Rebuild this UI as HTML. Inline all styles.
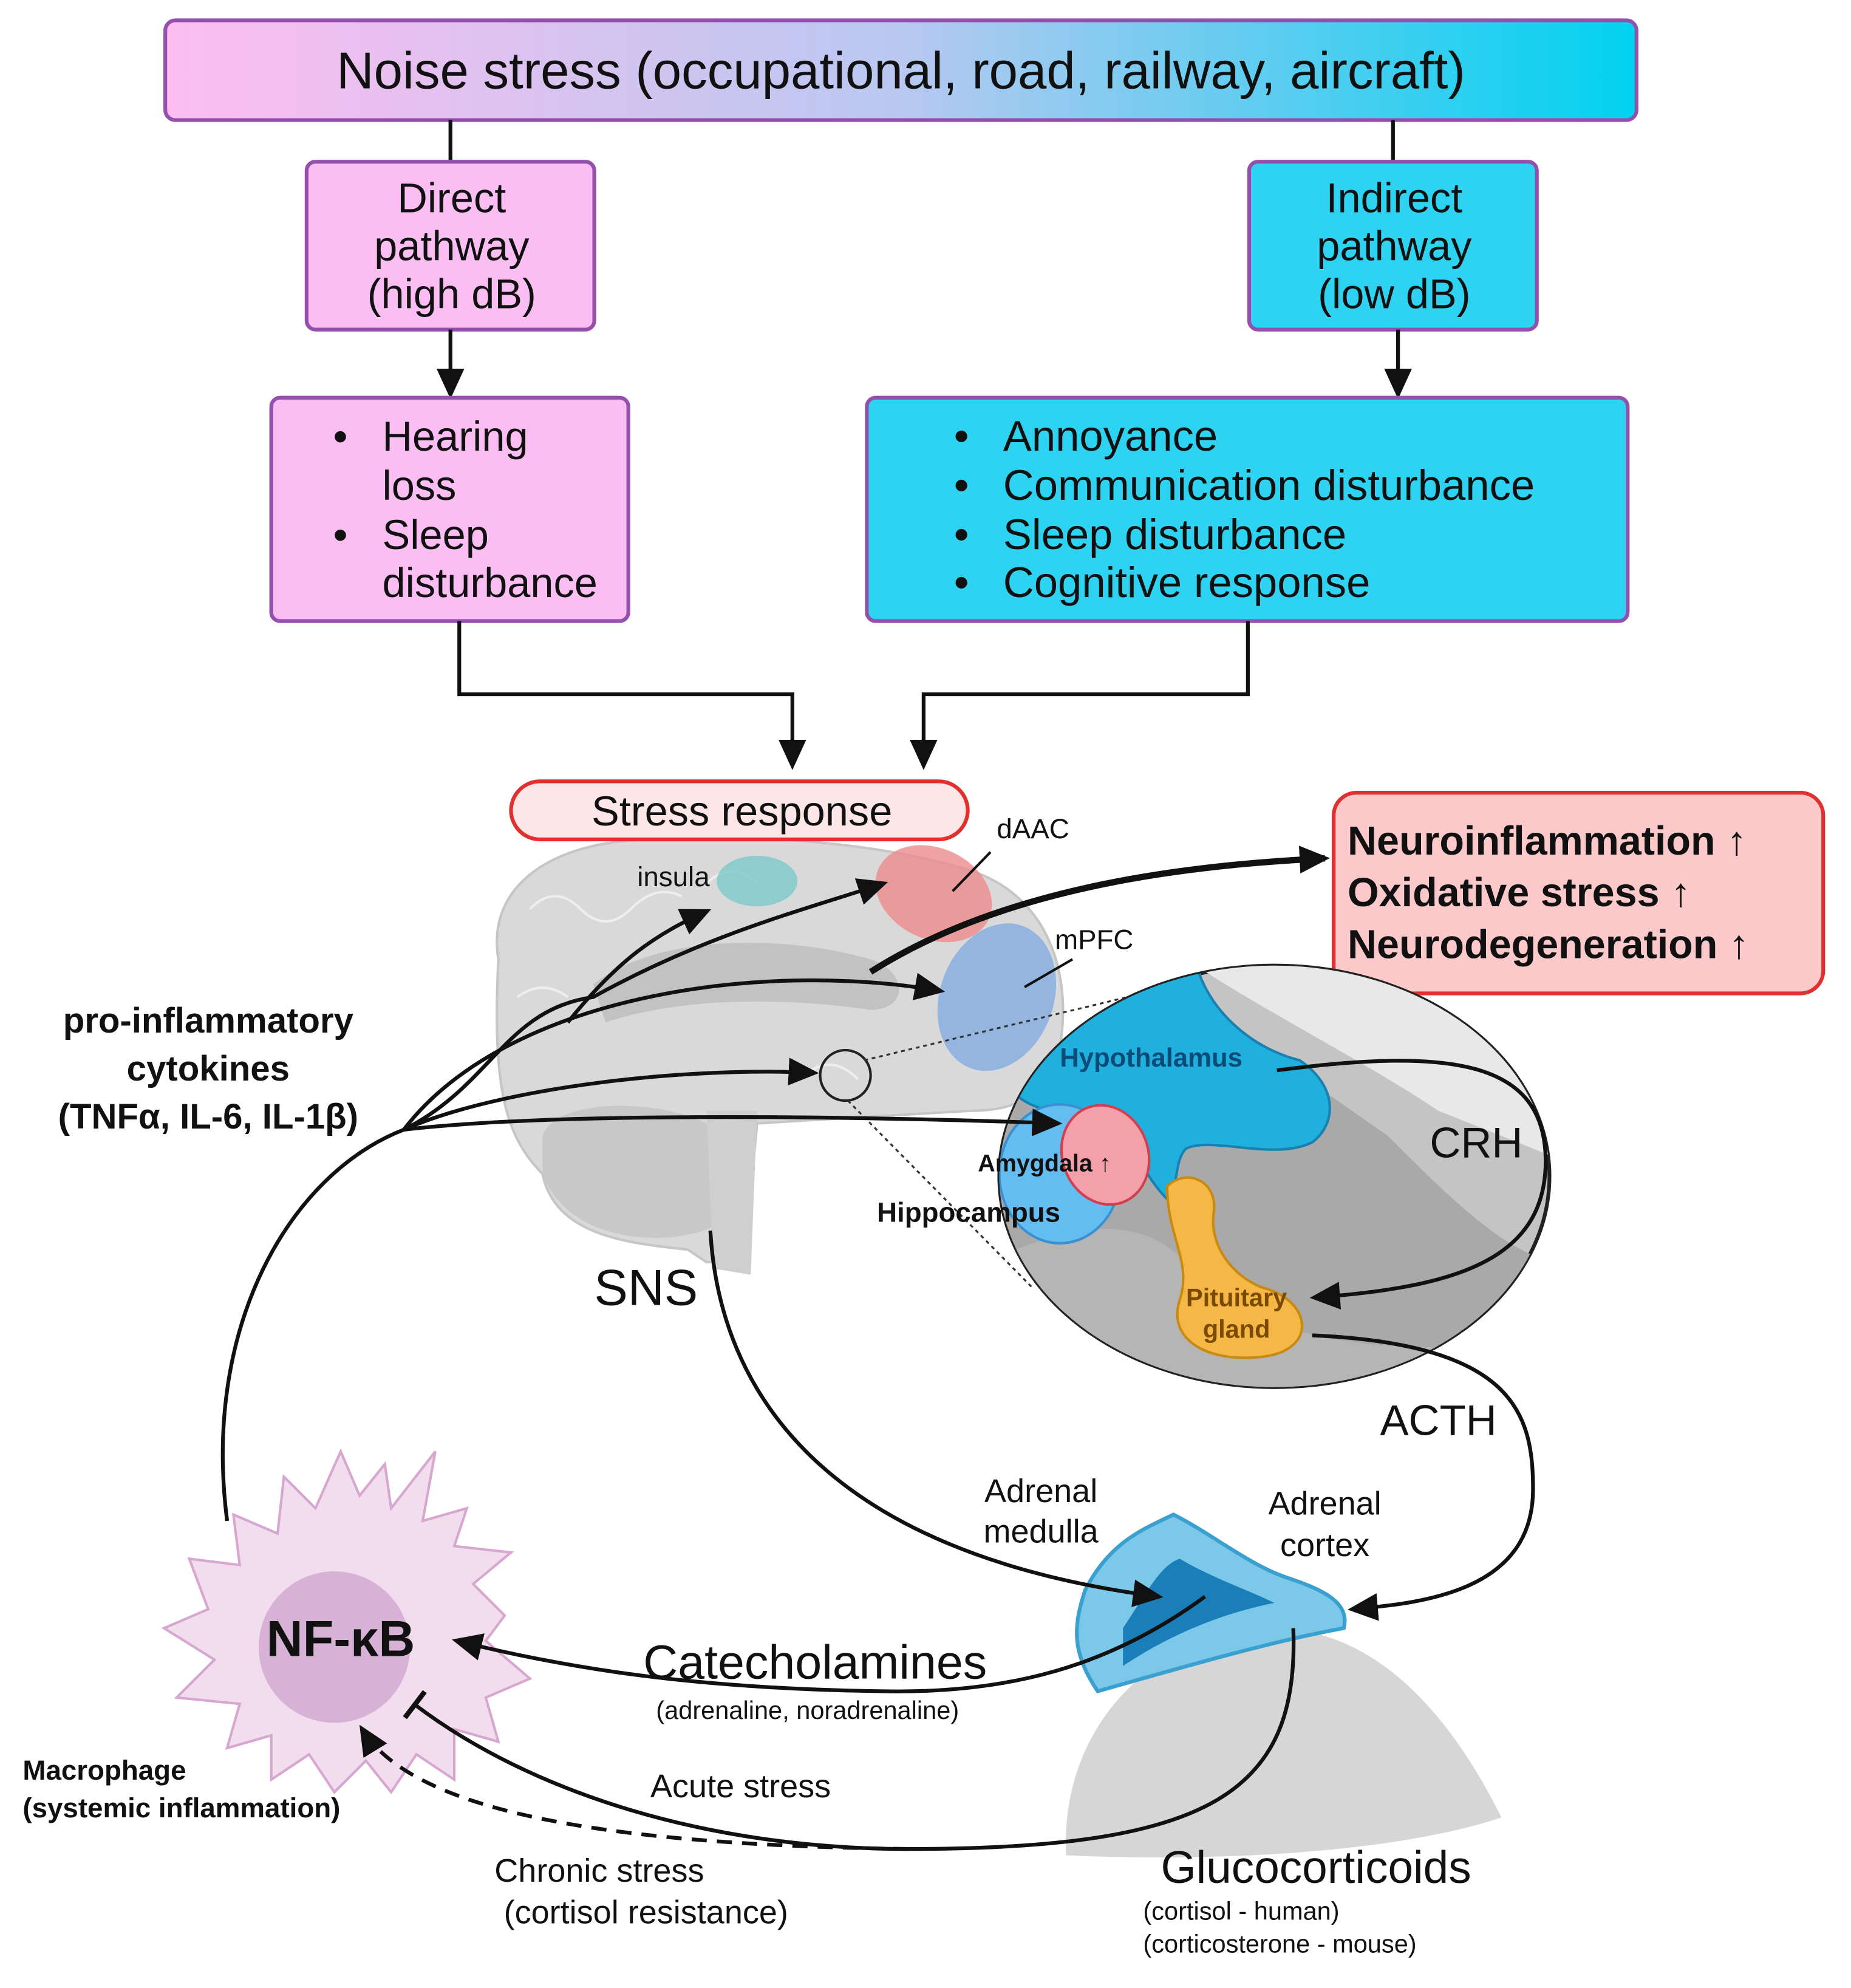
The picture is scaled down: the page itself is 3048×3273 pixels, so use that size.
<!DOCTYPE html>
<html><head><meta charset="utf-8"><style>
html,body{margin:0;padding:0;background:#fff}
svg{display:block}
text{font-family:"Liberation Sans",sans-serif;fill:#111}
</style></head><body>
<svg width="3048" height="3273" viewBox="0 0 1467 1575" xmlns="http://www.w3.org/2000/svg">
<defs>
<linearGradient id="g1" x1="0" x2="1" y1="0" y2="0"><stop offset="0" stop-color="#fdbdf0"/><stop offset="0.5" stop-color="#b9c8f0"/><stop offset="1" stop-color="#00d2f0"/></linearGradient>
<marker id="arb" markerWidth="26" markerHeight="22" refX="20" refY="11" orient="auto" markerUnits="userSpaceOnUse"><path d="M0,0 L24,11 L0,22 z" fill="#111"/></marker>
<marker id="bar" markerWidth="6" markerHeight="26" refX="3" refY="13" orient="auto" markerUnits="userSpaceOnUse"><rect x="0" y="0" width="4" height="26" fill="#111"/></marker>
<clipPath id="cc"><ellipse cx="1010" cy="932" rx="218" ry="167"/></clipPath>
</defs>

<rect x="131" y="16" width="1166" height="79" rx="8" fill="url(#g1)" stroke="#9550ae" stroke-width="3"/>
<text x="714" y="70" font-size="41" text-anchor="middle">Noise stress (occupational, road, railway, aircraft)</text>
<line x1="357" y1="95" x2="357" y2="128" stroke="#111" stroke-width="3"/>
<line x1="1104" y1="95" x2="1104" y2="128" stroke="#111" stroke-width="3"/>

<rect x="243" y="128" width="228" height="133" rx="7" fill="#fbbef3" stroke="#9550ae" stroke-width="3"/>
<text font-size="33" text-anchor="middle"><tspan x="358" y="168">Direct</tspan><tspan x="358" y="206">pathway</tspan><tspan x="358" y="244">(high dB)</tspan></text>
<rect x="990" y="128" width="228" height="133" rx="7" fill="#2fd3f2" stroke="#9550ae" stroke-width="3"/>
<text font-size="33" text-anchor="middle"><tspan x="1105" y="168">Indirect</tspan><tspan x="1105" y="206">pathway</tspan><tspan x="1105" y="244">(low dB)</tspan></text>

<line x1="357" y1="261" x2="357" y2="312" stroke="#111" stroke-width="3" marker-end="url(#arb)"/>
<line x1="1108" y1="261" x2="1108" y2="312" stroke="#111" stroke-width="3" marker-end="url(#arb)"/>

<rect x="215" y="315" width="283" height="177" rx="7" fill="#fbbef3" stroke="#9550ae" stroke-width="3"/>
<g font-size="33"><text x="264" y="357">•</text><text x="303" y="357">Hearing</text><text x="303" y="396">loss</text><text x="264" y="435">•</text><text x="303" y="435">Sleep</text><text x="303" y="473">disturbance</text></g>
<rect x="687" y="315" width="603" height="177" rx="7" fill="#2fd3f2" stroke="#9550ae" stroke-width="3"/>
<g font-size="34"><text x="756" y="357">•</text><text x="795" y="357">Annoyance</text><text x="756" y="396">•</text><text x="795" y="396">Communication disturbance</text><text x="756" y="435">•</text><text x="795" y="435">Sleep disturbance</text><text x="756" y="473">•</text><text x="795" y="473">Cognitive response</text></g>

<polyline points="364,492 364,550 628,550 628,606" fill="none" stroke="#111" stroke-width="3" marker-end="url(#arb)"/>
<polyline points="989,492 989,550 732,550 732,606" fill="none" stroke="#111" stroke-width="3" marker-end="url(#arb)"/>

<!-- brain -->
<path d="M395,760 C385,700 440,665 520,665 C600,660 700,668 770,690 C830,710 850,770 840,830 C835,870 800,880 770,880 L600,890 L590,1000 L560,1000 L545,990 C500,985 440,980 430,930 C400,900 390,860 395,760 Z" fill="#d9d9d9" stroke="#c6c6c6" stroke-width="2"/>
<path d="M430,900 C440,870 520,870 560,890 L570,970 C530,990 450,985 430,930 Z" fill="#c8c8c8"/>
<path d="M470,780 C520,740 620,740 690,760 C720,770 720,800 690,800 C620,790 540,790 480,810 Z" fill="#c2c2c2"/>
<path d="M560,880 L600,880 L595,1010 L565,1005 Z" fill="#cfcfcf"/>
<g fill="none" stroke="#eeeeee" stroke-width="2"><path d="M420,720 q20,-20 40,0 t40,0 t40,-10"/><path d="M410,790 q20,-15 40,0"/><path d="M560,700 q20,-20 40,0"/><path d="M640,850 q20,-15 40,5"/></g>
<ellipse cx="600" cy="698" rx="32" ry="20" fill="#7cc8c8" opacity="0.8"/>
<ellipse cx="740" cy="708" rx="48" ry="36" fill="#ec8a8a" opacity="0.8" transform="rotate(25 740 708)"/>
<ellipse cx="790" cy="790" rx="45" ry="60" fill="#86aee0" opacity="0.85" transform="rotate(20 790 790)"/>
<line x1="755" y1="706" x2="785" y2="675" stroke="#111" stroke-width="2"/>
<line x1="812" y1="782" x2="850" y2="760" stroke="#111" stroke-width="2"/>
<text x="790" y="664" font-size="22">dAAC</text>
<text x="836" y="752" font-size="22">mPFC</text>
<text x="505" y="702" font-size="22">insula</text>
<circle cx="670" cy="852" r="20" fill="none" stroke="#222" stroke-width="2"/>
<line x1="685" y1="840" x2="985" y2="768" stroke="#333" stroke-width="1.5" stroke-dasharray="3,3"/>
<line x1="672" y1="872" x2="818" y2="1020" stroke="#333" stroke-width="1.5" stroke-dasharray="3,3"/>

<rect x="405" y="619" width="362" height="46" rx="23" fill="#fde6e6" stroke="#e03030" stroke-width="3"/>
<text x="588" y="654" font-size="33" text-anchor="middle">Stress response</text>

<rect x="1057" y="628" width="388" height="159" rx="18" fill="#fbc9c9" stroke="#e03030" stroke-width="3"/>
<g font-size="32" font-weight="bold"><text x="1068" y="677">Neuroinflammation ↑</text><text x="1068" y="718">Oxidative stress ↑</text><text x="1068" y="759">Neurodegeneration ↑</text></g>

<!-- zoom circle -->
<ellipse cx="1010" cy="932" rx="218" ry="167" fill="#c4c4c4" stroke="#222" stroke-width="3"/>
<g clip-path="url(#cc)">
<path d="M780,820 C850,850 900,850 1000,830 L1100,900 C1150,950 1200,1000 1240,1000 L1240,1110 L780,1110 Z" fill="#a9a9a9"/>
<path d="M780,1000 C850,970 900,960 940,1000 C980,1060 1100,1080 1240,1060 L1240,1110 L780,1110 Z" fill="#b5b5b5"/>
<path d="M940,760 C1000,800 1080,840 1140,880 L1240,920 L1240,760 Z" fill="#e8e8e8"/>
<path d="M860,770 C900,760 930,770 950,770 C960,800 990,830 1030,840 C1060,860 1060,890 1040,905 C1010,920 960,900 940,910 C930,920 935,940 925,950 C905,930 900,905 880,895 C840,880 810,880 800,860 Z" fill="#1fb0de" stroke="#1a80b0" stroke-width="2"/>
<ellipse cx="840" cy="930" rx="48" ry="55" fill="#64bdf0" stroke="#3a90d0" stroke-width="2"/>
<ellipse cx="876" cy="915" rx="34" ry="40" fill="#f3a0aa" stroke="#d04050" stroke-width="2" transform="rotate(-20 876 915)"/>
<path d="M925,940 C940,925 965,935 962,960 C958,985 975,1010 1000,1020 C1040,1030 1045,1070 1000,1075 C955,1080 925,1060 935,1030 C945,1000 925,980 925,940 Z" fill="#f5b847" stroke="#c88a10" stroke-width="2"/>
</g>
<text x="840" y="845" font-size="21" font-weight="bold" style="fill:#0b4b78">Hypothalamus</text>
<text x="775" y="928" font-size="19" font-weight="bold">Amygdala ↑</text>
<text x="695" y="968" font-size="22" font-weight="bold">Hippocampus</text>
<text x="980" y="1035" font-size="20" font-weight="bold" text-anchor="middle" style="fill:#7a4a00">Pituitary</text>
<text x="980" y="1060" font-size="20" font-weight="bold" text-anchor="middle" style="fill:#7a4a00">gland</text>

<!-- adrenal -->
<path d="M845,1470 C840,1380 900,1300 1000,1290 C1100,1285 1160,1380 1190,1440 C1100,1470 950,1475 845,1470 Z" fill="#d6d6d6"/>
<path d="M860,1260 C880,1220 910,1210 930,1200 C960,1215 990,1240 1020,1250 C1050,1260 1070,1270 1065,1290 C1010,1300 940,1320 870,1340 C850,1310 850,1290 860,1260 Z" fill="#7cc8e8" stroke="#3aa0d0" stroke-width="3"/>
<path d="M890,1290 C910,1260 920,1240 935,1235 C960,1250 990,1260 1010,1270 C960,1280 920,1300 890,1320 Z" fill="#1a7fb8"/>

<!-- macrophage -->
<path d="M270,1150 L285,1185 L305,1160 L310,1195 L345,1150 L335,1205 L370,1195 L360,1225 L405,1230 L375,1255 L400,1280 L385,1300 L420,1330 L385,1345 L395,1380 L360,1370 L360,1410 L330,1390 L310,1420 L290,1395 L265,1420 L245,1390 L215,1410 L215,1375 L180,1385 L190,1350 L140,1345 L170,1315 L130,1290 L165,1275 L150,1235 L190,1240 L185,1200 L220,1215 L225,1170 L250,1195 Z" fill="#f2ddee" stroke="#d7a7cf" stroke-width="2"/>
<circle cx="265" cy="1305" r="60" fill="#d8b2d6"/>
<text x="270" y="1312" font-size="40" font-weight="bold" text-anchor="middle">NF-κB</text>

<!-- connectors -->
<g fill="none" stroke="#111" stroke-width="3">
<path d="M180,1205 C160,1050 230,930 320,895 C390,860 400,800 470,790 C560,740 640,720 700,700" marker-end="url(#arb)"/>
<path d="M450,810 C490,760 520,740 560,722" marker-end="url(#arb)"/>
<path d="M320,895 C400,790 600,760 745,785" marker-end="url(#arb)"/>
<path d="M320,895 C400,860 550,845 645,850" marker-end="url(#arb)"/>
<path d="M320,895 C450,880 700,885 838,890" marker-end="url(#arb)"/>
<path d="M690,770 C800,700 950,685 1050,680" stroke-width="5" marker-end="url(#arb)"/>
<path d="M563,975 C570,1100 650,1230 918,1265" marker-end="url(#arb)"/>
<path d="M955,1265 C880,1320 800,1342 700,1340 C550,1338 450,1322 362,1300" marker-end="url(#arb)"/>
<path d="M1012,848 C1150,830 1225,840 1225,920 C1225,1000 1150,1020 1042,1028" marker-end="url(#arb)"/>
<path d="M1040,1058 C1200,1065 1215,1120 1215,1180 C1215,1260 1130,1270 1072,1275" marker-end="url(#arb)"/>
<path d="M1025,1290 C1030,1420 960,1465 720,1465 C560,1465 420,1420 328,1350" marker-end="url(#bar)"/>
<path d="M720,1465 C500,1462 330,1440 287,1370" stroke-dasharray="12,8" marker-end="url(#arb)"/>
</g>

<!-- labels -->
<g font-size="28" font-weight="bold" text-anchor="middle"><text x="165" y="818">pro-inflammatory</text><text x="165" y="856">cytokines</text><text x="165" y="894">(TNFα, IL-6, IL-1β)</text></g>
<text x="18" y="1410" font-size="22" font-weight="bold">Macrophage</text>
<text x="18" y="1440" font-size="22" font-weight="bold">(systemic inflammation)</text>
<text x="1170" y="917" font-size="34" text-anchor="middle">CRH</text>
<text x="1140" y="1137" font-size="34" text-anchor="middle">ACTH</text>
<text x="512" y="1034" font-size="40" text-anchor="middle">SNS</text>
<text x="825" y="1190" font-size="26" text-anchor="middle">Adrenal</text>
<text x="825" y="1222" font-size="26" text-anchor="middle">medulla</text>
<text x="1050" y="1200" font-size="26" text-anchor="middle">Adrenal</text>
<text x="1050" y="1233" font-size="26" text-anchor="middle">cortex</text>
<text x="646" y="1330" font-size="38" text-anchor="middle">Catecholamines</text>
<text x="640" y="1362" font-size="20" text-anchor="middle">(adrenaline, noradrenaline)</text>
<text x="587" y="1424" font-size="26" text-anchor="middle">Acute stress</text>
<text x="475" y="1491" font-size="26" text-anchor="middle">Chronic stress</text>
<text x="512" y="1524" font-size="26" text-anchor="middle">(cortisol resistance)</text>
<text x="1043" y="1492" font-size="36" text-anchor="middle">Glucocorticoids</text>
<text x="906" y="1521" font-size="20">(cortisol - human)</text>
<text x="906" y="1547" font-size="20">(corticosterone - mouse)</text>
</svg>
</body></html>
